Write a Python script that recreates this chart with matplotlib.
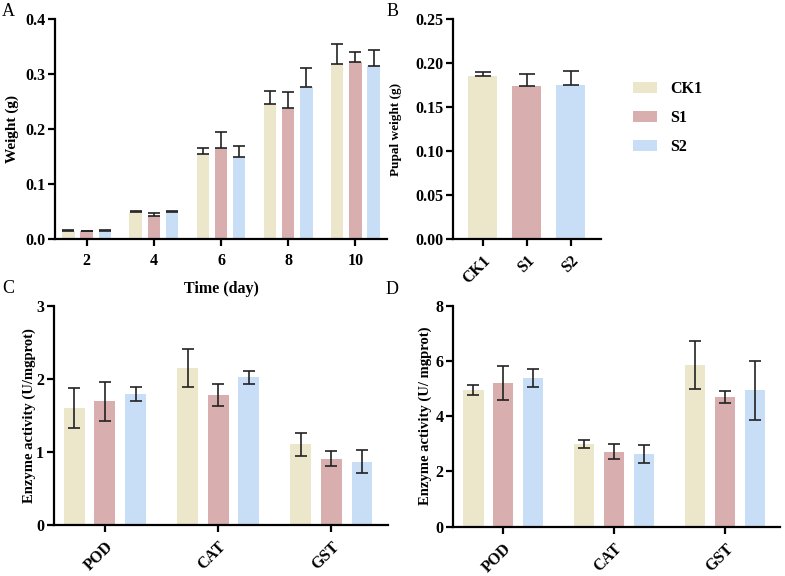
import matplotlib
matplotlib.use("Agg")
import matplotlib.pyplot as plt
import numpy as np

plt.rcParams['font.family'] = ['Liberation Serif', 'DejaVu Serif']
plt.rcParams['font.weight'] = 'bold'

groups = ['CK1', 'S1', 'S2']
colors = ['#ECE6CB', '#D9AEAF', '#C8DEF7']

# A: larval weight over time
days = [2, 4, 6, 8, 10]
weight_mean = {
    'CK1': [0.014, 0.049, 0.154, 0.245, 0.318],
    'S1': [0.014, 0.041, 0.165, 0.238, 0.322],
    'S2': [0.014, 0.049, 0.150, 0.277, 0.315],
}
weight_err = {
    'CK1': [0.002, 0.002, 0.012, 0.024, 0.037],
    'S1': [0.001, 0.007, 0.030, 0.029, 0.019],
    'S2': [0.002, 0.002, 0.019, 0.034, 0.030],
}

# B: pupal weight
pupal_mean = [0.1856, 0.1739, 0.1753]
pupal_err = [0.0042, 0.0141, 0.0153]

# C / D: enzyme activity
enzymes = ['POD', 'CAT', 'GST']
enz_c_mean = {
    'CK1': [1.60, 2.15, 1.105],
    'S1': [1.69, 1.785, 0.91],
    'S2': [1.79, 2.02, 0.867],
}
enz_c_err = {
    'CK1': [0.27, 0.26, 0.155],
    'S1': [0.27, 0.15, 0.10],
    'S2': [0.10, 0.09, 0.155],
}
enz_d_mean = {
    'CK1': [4.95, 3.00, 5.86],
    'S1': [5.20, 2.72, 4.70],
    'S2': [5.38, 2.62, 4.93],
}
enz_d_err = {
    'CK1': [0.18, 0.15, 0.87],
    'S1': [0.63, 0.27, 0.22],
    'S2': [0.32, 0.33, 1.08],
}

fig = plt.figure(figsize=(7.85, 5.76), dpi=100)
axA = fig.add_axes([0.0701, 0.5851, 0.4229, 0.3814])
axB = fig.add_axes([0.5775, 0.5851, 0.1882, 0.3814])
axC = fig.add_axes([0.0688, 0.0885, 0.4255, 0.3807])
axD = fig.add_axes([0.5775, 0.0856, 0.4166, 0.3837])


def style(ax):
    for s in ['top', 'right']:
        ax.spines[s].set_visible(False)
    for s in ['left', 'bottom']:
        ax.spines[s].set_linewidth(1.6)
    ax.tick_params(axis='both', width=1.6, length=5, labelsize=11.5)
    ax.tick_params(axis='y', pad=2)
    ax.tick_params(axis='x', pad=5)


def grouped(ax, means, errs, both_sides):
    x = np.arange(len(next(iter(means.values()))))
    step = 0.27
    for i, g in enumerate(groups):
        xs = x + (i - 1) * step
        ax.bar(xs, means[g], width=0.185, color=colors[i], zorder=2, label=g)
        if both_sides:
            yerr = errs[g]
        else:
            yerr = [np.zeros(len(errs[g])), errs[g]]
        ax.errorbar(xs, means[g], yerr=yerr, fmt='none', ecolor='#222222',
                    elinewidth=1.2, capsize=4, capthick=1.2, zorder=3)
    return x


# Panel A
x = grouped(axA, weight_mean, weight_err, False)
axA.set_xticks(x)
axA.set_xticklabels([str(d) for d in days])
axA.set_xlim(-0.47, 4.47)
axA.set_ylim(0, 0.4)
axA.set_yticks([0.0, 0.1, 0.2, 0.3, 0.4])
axA.set_yticklabels(['0.0', '0.1', '0.2', '0.3', '0.4'])
axA.set_ylabel('Weight (g)', fontsize=11, fontweight='bold')
axA.set_xlabel('Time (day)', fontsize=11.5, fontweight='bold')
axA.yaxis.set_label_coords(-0.11, 0.5)
axA.xaxis.set_label_coords(0.5, -0.19)
style(axA)

# Panel B
xb = np.arange(len(groups))
axB.bar(xb, pupal_mean, width=0.66, color=colors, zorder=2)
axB.errorbar(xb, pupal_mean, yerr=[np.zeros(3), pupal_err], fmt='none',
             ecolor='#222222', elinewidth=1.2, capsize=5.5, capthick=1.2, zorder=3)
axB.set_xticks(xb)
axB.set_xticklabels(groups, rotation=45, ha='right', rotation_mode='anchor')
axB.set_xlim(-0.67, 2.69)
axB.set_ylim(0, 0.25)
axB.set_yticks([0.0, 0.05, 0.10, 0.15, 0.20, 0.25])
axB.set_yticklabels(['0.00', '0.05', '0.10', '0.15', '0.20', '0.25'])
axB.set_ylabel('Pupal weight (g)', fontsize=9.5, fontweight='bold')
axB.yaxis.set_label_coords(-0.35, 0.5)
style(axB)

# legend
handles, labels = axA.get_legend_handles_labels()
fig.legend(handles, labels, loc='upper left', bbox_to_anchor=(633 / 785, 0.859),
           frameon=False, borderpad=0, borderaxespad=0, handlelength=1.5,
           handleheight=0.7, handletextpad=0.85, labelspacing=0.8,
           prop={'weight': 'bold', 'size': 11.5})

# Panel C
xc = grouped(axC, enz_c_mean, enz_c_err, True)
axC.set_xticks(xc)
axC.set_xticklabels(enzymes, rotation=45, ha='right', rotation_mode='anchor')
axC.set_xlim(-0.45, 2.5)
axC.set_ylim(0, 3)
axC.set_yticks([0, 1, 2, 3])
axC.set_ylabel('Enzyme activity (U/mgprot)', fontsize=10.5, fontweight='bold')
axC.yaxis.set_label_coords(-0.055, 0.5)
style(axC)

# Panel D
xd = grouped(axD, enz_d_mean, enz_d_err, True)
axD.set_xticks(xd)
axD.set_xticklabels(enzymes, rotation=45, ha='right', rotation_mode='anchor')
axD.set_xlim(-0.45, 2.5)
axD.set_ylim(0, 8)
axD.set_yticks([0, 2, 4, 6, 8])
axD.set_ylabel('Enzyme activity (U/ mgprot)', fontsize=10.5, fontweight='bold')
axD.yaxis.set_label_coords(-0.066, 0.5)
style(axD)

# panel letters
for lab, (px, py) in zip('ABCD', [(2, 3), (387, 3), (2, 280), (386, 281)]):
    fig.text(px / 785, 1 - py / 576, lab, fontsize=13, fontweight='normal',
             ha='left', va='top')

fig.savefig('out.png', dpi=100)
